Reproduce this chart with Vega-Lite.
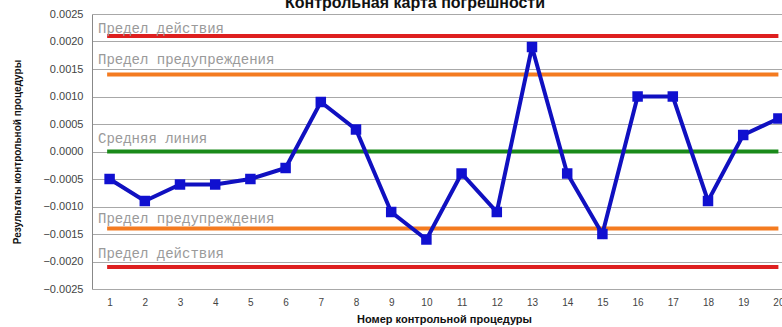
{
  "$schema": "https://vega.github.io/schema/vega-lite/v6.json",
  "width": 704,
  "height": 275,
  "autosize": {"type": "none"},
  "padding": {"left": 92, "top": 14, "right": 0, "bottom": 38},
  "background": "white",
  "title": {"text": "Контрольная карта погрешности", "font": "Liberation Sans", "fontSize": 16, "fontWeight": "bold", "color": "#111", "anchor": "middle", "dx": -29, "baseline": "bottom", "offset": -19},
  "datasets": {
    "points": [
      {"n": 1, "v": -0.0005}, {"n": 2, "v": -0.0009}, {"n": 3, "v": -0.0006}, {"n": 4, "v": -0.0006},
      {"n": 5, "v": -0.0005}, {"n": 6, "v": -0.0003}, {"n": 7, "v": 0.0009}, {"n": 8, "v": 0.0004},
      {"n": 9, "v": -0.0011}, {"n": 10, "v": -0.0016}, {"n": 11, "v": -0.0004}, {"n": 12, "v": -0.0011},
      {"n": 13, "v": 0.0019}, {"n": 14, "v": -0.0004}, {"n": 15, "v": -0.0015}, {"n": 16, "v": 0.0010},
      {"n": 17, "v": 0.0010}, {"n": 18, "v": -0.0009}, {"n": 19, "v": 0.0003}, {"n": 20, "v": 0.0006}
    ],
    "limits": [
      {"name": "Предел действия", "y": 0.0021, "x1": 0.93, "x2": 20, "ly": 0.00222, "lx": 0.67, "c": "red"},
      {"name": "Предел предупреждения", "y": 0.0014, "x1": 0.93, "x2": 20, "ly": 0.00166, "lx": 0.67, "c": "orange"},
      {"name": "Средняя линия", "y": 0.0, "x1": 0.93, "x2": 20, "ly": 0.00022, "lx": 0.67, "c": "green"},
      {"name": "Предел предупреждения", "y": -0.0014, "x1": 0.93, "x2": 20, "ly": -0.00122, "lx": 0.67, "c": "orange"},
      {"name": "Предел действия", "y": -0.0021, "x1": 0.93, "x2": 20, "ly": -0.00187, "lx": 0.67, "c": "red"}
    ]
  },
  "config": {
    "view": {"stroke": null},
    "axis": {"labelFont": "Liberation Sans", "titleFont": "Liberation Sans", "labelColor": "#444", "titleColor": "#111", "labelOverlap": false},
    "axisX": {"titleFontSize": 11, "titleFontWeight": "bold", "titlePadding": 6, "labelFontSize": 10, "labelPadding": 8, "ticks": false, "domain": false, "grid": false, "format": "d", "labelOverlap": false},
    "axisY": {"format": ".4f", "titleFontSize": 10, "titleFontWeight": "bold", "titlePadding": 20, "labelFontSize": 11, "labelPadding": 9, "ticks": false, "domain": true, "domainColor": "#888", "grid": true, "gridColor": "#a8a8a8", "gridWidth": 1, "labelOverlap": false}
  },
  "layer": [
    {
      "data": {"name": "limits"},
      "mark": {"type": "rule", "strokeWidth": 4},
      "encoding": {
        "x": {"field": "x1", "type": "quantitative", "scale": {"domain": [0.5, 20.5], "nice": false, "zero": false}, "axis": {"title": "Номер контрольной процедуры", "labelOverlap": false, "values": [1,2,3,4,5,6,7,8,9,10,11,12,13,14,15,16,17,18,19,20]}},
        "x2": {"field": "x2"},
        "y": {"field": "y", "type": "quantitative", "scale": {"domain": [-0.0025, 0.0025], "nice": false}, "axis": {"title": "Результаты контрольной процедуры", "labelOverlap": false, "values": [-0.0025,-0.002,-0.0015,-0.001,-0.0005,0,0.0005,0.001,0.0015,0.002,0.0025]}},
        "color": {"field": "c", "type": "nominal", "scale": {"domain": ["red", "orange", "green"], "range": ["#de1f1f", "#f47b20", "#1a8a1a"]}, "legend": null}
      }
    },
    {
      "data": {"name": "limits"},
      "mark": {"type": "text", "font": "Liberation Mono", "fontSize": 14, "color": "#9a9a9a", "align": "left", "baseline": "middle"},
      "encoding": {
        "x": {"field": "lx", "type": "quantitative", "axis": {"title": "Номер контрольной процедуры", "labelOverlap": false, "values": [1,2,3,4,5,6,7,8,9,10,11,12,13,14,15,16,17,18,19,20]}},
        "y": {"field": "ly", "type": "quantitative", "axis": {"title": "Результаты контрольной процедуры", "labelOverlap": false, "values": [-0.0025,-0.002,-0.0015,-0.001,-0.0005,0,0.0005,0.001,0.0015,0.002,0.0025]}},
        "text": {"field": "name"}
      }
    },
    {
      "data": {"name": "points"},
      "mark": {"type": "line", "color": "#1010c0", "strokeWidth": 4},
      "encoding": {
        "x": {"field": "n", "type": "quantitative", "axis": {"title": "Номер контрольной процедуры", "labelOverlap": false, "values": [1,2,3,4,5,6,7,8,9,10,11,12,13,14,15,16,17,18,19,20]}},
        "y": {"field": "v", "type": "quantitative", "axis": {"title": "Результаты контрольной процедуры", "labelOverlap": false, "values": [-0.0025,-0.002,-0.0015,-0.001,-0.0005,0,0.0005,0.001,0.0015,0.002,0.0025]}}
      }
    },
    {
      "data": {"name": "points"},
      "mark": {"type": "square", "color": "#1010d0", "size": 110, "opacity": 1, "filled": true},
      "encoding": {
        "x": {"field": "n", "type": "quantitative", "axis": {"title": "Номер контрольной процедуры", "labelOverlap": false, "values": [1,2,3,4,5,6,7,8,9,10,11,12,13,14,15,16,17,18,19,20]}},
        "y": {"field": "v", "type": "quantitative", "axis": {"title": "Результаты контрольной процедуры", "labelOverlap": false, "values": [-0.0025,-0.002,-0.0015,-0.001,-0.0005,0,0.0005,0.001,0.0015,0.002,0.0025]}}
      }
    }
  ]
}
